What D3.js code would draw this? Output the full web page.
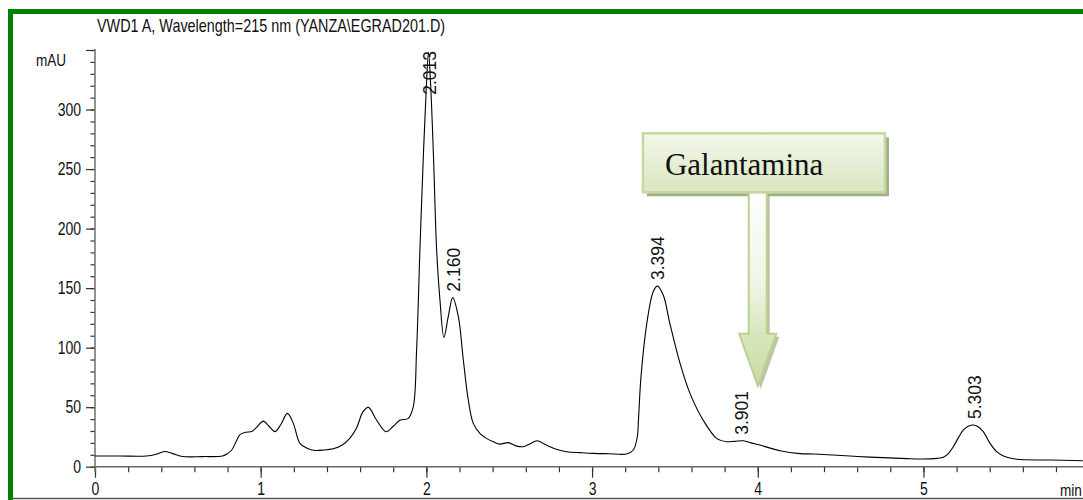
<!DOCTYPE html>
<html>
<head>
<meta charset="utf-8">
<script src="https://d3js.org/d3.v7.min.js"></script>
<style>
  body { margin: 0; background: #fff; }
  text { font-family: "Liberation Sans", Arial, sans-serif; }
</style>
</head>
<body>
<svg id="chrom" width="1083" height="500"></svg>
<script>
// chromatogram trace (time in min, signal in mAU)
var traceTime = [0.00, 0.15, 0.31, 0.37, 0.42, 0.47, 0.53, 0.65, 0.77, 0.80, 0.825, 0.855, 0.875, 0.91, 0.946,
  0.975, 1.016, 1.05, 1.086, 1.12, 1.161, 1.197, 1.237, 1.28, 1.317, 1.38, 1.437, 1.49, 1.539, 1.58, 1.617,
  1.650, 1.70, 1.756, 1.80, 1.84, 1.891, 1.921, 1.941, 1.961, 1.982, 2.000, 2.013, 2.026, 2.043, 2.062, 2.082,
  2.106, 2.132, 2.159, 2.193, 2.223, 2.253, 2.283, 2.323, 2.36, 2.404, 2.444, 2.494, 2.54, 2.585, 2.63, 2.666,
  2.70, 2.746, 2.80, 2.847, 2.93, 3.007, 3.10, 3.209, 3.249, 3.273, 3.28, 3.295, 3.33, 3.369, 3.394, 3.43,
  3.47, 3.531, 3.591, 3.671, 3.752, 3.812, 3.86, 3.913, 3.96, 4.013, 4.134, 4.255, 4.335, 4.455, 4.60, 4.756,
  4.90, 4.998, 5.08, 5.12, 5.15, 5.18, 5.24, 5.27, 5.301, 5.33, 5.361, 5.40, 5.442, 5.49, 5.562, 5.763, 5.962];
var traceMAU = [9, 9, 9, 10.5, 12.8, 11, 8.5, 8.5, 9, 11, 14, 22, 27, 29, 29.5,
  33, 38.3, 34, 29.5, 35, 44.8, 36.4, 19.6, 15.5, 13.8, 14, 15, 18, 24, 33, 46,
  49.8, 39, 29.4, 34, 39, 40.6, 50.4, 98, 182, 262, 320, 348, 320, 260, 182, 140,
  108.6, 126, 142, 126, 89.6, 56, 36.4, 28, 24, 21, 19, 20.2, 17.5, 16.8, 19.5, 21.8,
  20, 16.8, 14, 12.6, 11.8, 11.2, 10.9, 10.7, 14, 25, 39, 75, 120, 147, 151.7, 144,
  120, 86.8, 61.6, 39, 23.8, 21, 21.3, 21.8, 20, 18.2, 13.4, 11, 10.7, 9.8, 8.6, 7.6,
  6.8, 6.5, 7, 7.9, 11, 16.8, 30.8, 34, 35, 33.5, 29.4, 20, 12.6, 8.5, 6.2, 5.6, 5];

// labelled peaks
var peakRT = [2.013, 2.160, 3.394, 3.901, 5.303];
var peakHeight = [348, 142, 151.7, 21.8, 35];

// axis ticks
var yMajor = [0, 50, 100, 150, 200, 250, 300, 350];
var xMajor = [0, 1, 2, 3, 4, 5];

var titleText = "VWD1 A, Wavelength=215 nm (YANZA\\EGRAD201.D)";
var noteText = "Galantamina";

var svg = d3.select("#chrom");

// scales
var x = d3.scaleLinear().domain([0, 5.963]).range([95, 1083]);
var y = d3.scaleLinear().domain([0, 350]).range([466.7, 50]);

// green frame
svg.append("rect").attr("x", 8).attr("y", 9).attr("width", 1075).attr("height", 5).attr("fill", "#008000");
svg.append("rect").attr("x", 8).attr("y", 9).attr("width", 5).attr("height", 491).attr("fill", "#008000");
svg.append("line").attr("x1", 13).attr("x2", 1083).attr("y1", 498.5).attr("y2", 498.5)
  .attr("stroke", "#555").attr("stroke-width", 1.5);

// title
svg.append("text")
  .attr("transform", "translate(97,32) scale(0.8,1)")
  .attr("font-size", 18)
  .attr("fill", "#111")
  .text(titleText);

svg.append("text")
  .attr("transform", "translate(36,66) scale(0.8,1)")
  .attr("font-size", 17)
  .attr("fill", "#111")
  .text("mAU");

// y axis
var yMinorG = svg.append("g").attr("transform", "translate(95,0)")
  .call(d3.axisLeft(y).tickValues(d3.range(0, 351, 10)).tickSize(4.5).tickFormat(""));
var yMajorG = svg.append("g").attr("transform", "translate(95,0)")
  .call(d3.axisLeft(y).tickValues(yMajor).tickSize(9).tickPadding(5)
    .tickFormat(function(d) { return d === 350 ? "" : d; }));

yMajorG.selectAll("text")
  .attr("x", -14 / 0.8)
  .attr("transform", "scale(0.8,1)")
  .attr("font-size", 17.5)
  .attr("fill", "#111");

// x axis
var xMinorG = svg.append("g").attr("transform", "translate(0," + y(0) + ")")
  .call(d3.axisBottom(x).tickValues(d3.range(0, 5.97, 0.2)).tickSize(5.5).tickFormat(""));
var xMajorG = svg.append("g").attr("transform", "translate(0," + y(0) + ")")
  .call(d3.axisBottom(x).tickValues(xMajor).tickSize(11).tickPadding(5).tickFormat(d3.format("d")));

xMajorG.selectAll("text")
  .attr("transform", "scale(0.8,1)")
  .attr("font-size", 17.5)
  .attr("fill", "#111");

[yMinorG, yMajorG, xMinorG, xMajorG].forEach(function(g) {
  g.select(".domain").remove();
  g.selectAll(".tick line").attr("stroke", "#333").attr("stroke-width", 1.2);
});

svg.append("text")
  .attr("transform", "translate(1060,496) scale(0.8,1)")
  .attr("font-size", 17)
  .attr("fill", "#111")
  .text("min");

// axis lines
svg.append("line").attr("x1", x(0)).attr("x2", x(0)).attr("y1", y(350) - 1).attr("y2", y(0) + 5)
  .attr("stroke", "#777").attr("stroke-width", 1.6);
svg.append("line").attr("x1", x(0)).attr("x2", x.range()[1]).attr("y1", y(0)).attr("y2", y(0))
  .attr("stroke", "#666").attr("stroke-width", 1.4);

// trace
var points = traceTime.map(function(t, i) { return [t, traceMAU[i]]; });
var line = d3.line()
  .x(function(d) { return x(d[0]); })
  .y(function(d) { return y(d[1]); })
  .curve(d3.curveCatmullRom.alpha(0.5));

svg.append("path")
  .datum(points)
  .attr("d", line)
  .attr("fill", "none")
  .attr("stroke", "#000")
  .attr("stroke-width", 1.1);

// peak retention time labels
peakRT.forEach(function(rt, i) {
  var lbl = svg.append("text")
    .attr("font-size", 17.5)
    .attr("fill", "#111")
    .text(rt.toFixed(3));
  var len = lbl.node().getComputedTextLength();
  var yy = Math.max(y(peakHeight[i]) - 6, y(350) + len + 1);
  lbl.attr("transform", "translate(" + (x(rt) + 7) + "," + yy + ") rotate(-90)");
});

// Galantamina annotation
var defs = svg.append("defs");
var gBox = defs.append("linearGradient").attr("id", "boxFill").attr("x1", 0).attr("y1", 0).attr("x2", 0).attr("y2", 1);
gBox.append("stop").attr("offset", 0).attr("stop-color", "#f4f8ec");
gBox.append("stop").attr("offset", 1).attr("stop-color", "#d9e6bf");

var boxT0 = 3.307, boxT1 = 4.768, boxV0 = 230.5, boxV1 = 280;
var tipT = 4.0, tipV = 68;

var tx = x(tipT), ty = y(tipV);
var shaftTop = y(boxV0), headBase = ty - 52;
var arrowPts = [
  [tx - 9, shaftTop], [tx + 9, shaftTop], [tx + 9, headBase], [tx + 18.5, headBase],
  [tx, ty], [tx - 18.5, headBase], [tx - 9, headBase]
];

var gArrow = defs.append("linearGradient").attr("id", "arrowFill")
  .attr("gradientUnits", "userSpaceOnUse")
  .attr("x1", 0).attr("y1", shaftTop).attr("x2", 0).attr("y2", ty);
gArrow.append("stop").attr("offset", 0).attr("stop-color", "#ffffff");
gArrow.append("stop").attr("offset", 0.5).attr("stop-color", "#eef4e2");
gArrow.append("stop").attr("offset", 0.75).attr("stop-color", "#d7e5ba");
gArrow.append("stop").attr("offset", 1).attr("stop-color", "#cadca3");

var arrowLine = d3.line();

// shadows
svg.append("path")
  .attr("d", arrowLine(arrowPts.map(function(p) { return [p[0] + 3, p[1] + 3]; })) + "Z")
  .attr("fill", "#a7b593").attr("opacity", 0.8);
svg.append("rect")
  .attr("x", x(boxT0) + 4).attr("y", y(boxV1) + 4)
  .attr("width", x(boxT1) - x(boxT0)).attr("height", y(boxV0) - y(boxV1))
  .attr("fill", "#a3b08e");

svg.append("path")
  .attr("d", arrowLine(arrowPts) + "Z")
  .attr("fill", "url(#arrowFill)")
  .attr("stroke", "#bcd192").attr("stroke-width", 2);

svg.append("rect")
  .attr("x", x(boxT0)).attr("y", y(boxV1))
  .attr("width", x(boxT1) - x(boxT0)).attr("height", y(boxV0) - y(boxV1))
  .attr("fill", "url(#boxFill)")
  .attr("stroke", "#c5d89e").attr("stroke-width", 2.5);

svg.append("text")
  .attr("x", x(boxT0) + 22).attr("y", y(boxV1) + 42)
  .style("font-family", "'Liberation Serif', 'Times New Roman', serif")
  .attr("font-size", 31)
  .attr("fill", "#111")
  .text(noteText);
</script>
</body>
</html>
